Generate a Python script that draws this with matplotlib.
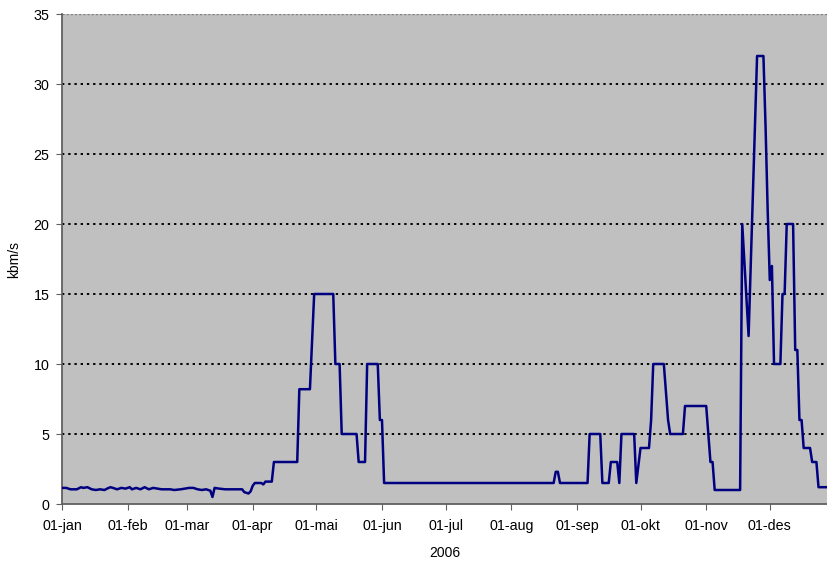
import matplotlib
matplotlib.use("Agg")
import matplotlib.pyplot as plt
import matplotlib.dates as mdates
import pandas as pd
import numpy as np

plt.rcParams['font.family'] = ['Liberation Sans', 'DejaVu Sans']

# day of year (0 = 01-jan-2006) and value in kbm/s
days = [0, 2, 4, 7, 9, 10, 12, 14, 16, 18, 20, 22, 23, 25, 26, 28, 30, 32, 33, 35,
        37, 39, 41, 43, 45, 47, 51, 53, 56, 60, 62, 64, 66, 68, 70, 71, 72, 74, 77, 85,
        86, 88, 89, 90, 91, 94, 95, 96, 99, 100, 111, 112, 117, 119, 128, 129, 131, 132, 139, 140,
        143, 144, 149, 150, 151, 152, 232, 233, 234, 235, 248, 249, 254, 255, 258, 259, 262, 263, 264, 270,
        271, 273, 277, 278, 279, 284, 286, 287, 293, 294, 304, 306, 307, 308, 320, 321, 324, 328, 331, 332,
        333, 334, 335, 336, 339, 340, 341, 342, 345, 346, 347, 348, 349, 350, 353, 354, 356, 357, 361]
values = [1.15, 1.15, 1.05, 1.05, 1.2, 1.15, 1.2, 1.05, 1.0, 1.05, 1.0, 1.15, 1.2, 1.1, 1.05, 1.15, 1.1, 1.2, 1.05, 1.15,
          1.05, 1.2, 1.05, 1.15, 1.1, 1.05, 1.05, 1.0, 1.05, 1.15, 1.15, 1.05, 1.0, 1.05, 0.95, 0.5, 1.15, 1.1, 1.05, 1.05,
          0.85, 0.75, 0.9, 1.3, 1.5, 1.5, 1.4, 1.6, 1.6, 3.0, 3.0, 8.2, 8.2, 15, 15, 10, 10, 5, 5, 3,
          3, 10, 10, 6, 6, 1.5, 1.5, 2.3, 2.3, 1.5, 1.5, 5, 5, 1.5, 1.5, 3, 3, 1.5, 5, 5,
          1.5, 4, 4, 6, 10, 10, 6, 5, 5, 7, 7, 3, 3, 1, 1, 20, 12, 32, 32, 27,
          21, 16, 17, 10, 10, 15, 15, 20, 20, 11, 11, 6, 6, 4, 4, 3, 3, 1.2, 1.2]

months = ['jan', 'feb', 'mar', 'apr', 'mai', 'jun', 'jul', 'aug', 'sep', 'okt', 'nov', 'des']

start = pd.Timestamp('2006-01-01')
dates = start + pd.to_timedelta(days, unit='D')
month_starts = pd.date_range('2006-01-01', periods=12, freq='MS')

fig = plt.figure(figsize=(8.27, 5.62), dpi=100)
ax = fig.add_axes([62/827, 1 - 504/562, 765/827, 490/562])
ax.set_facecolor('#C0C0C0')

# dotted grid
for yv in range(5, 35, 5):
    ax.axhline(yv, color='black', lw=1.4, ls=(0, (1.2, 2.0)), zorder=1)
ax.axhline(35, color='#808080', lw=1.0, ls=(0, (1.5, 1.5)), zorder=1)

ax.plot(dates, values, color='#000080', lw=1.8, zorder=3)

ax.set_ylim(0, 35)
ax.set_xlim(start, start + pd.Timedelta(days=361))
ax.set_yticks(range(0, 36, 5))
ax.set_xticks(month_starts)
ax.set_xticklabels(['01-' + m for m in months])

for s in ['top', 'right']:
    ax.spines[s].set_visible(False)
for s in ['left', 'bottom']:
    ax.spines[s].set_color('#606060')
    ax.spines[s].set_linewidth(1.3)
ax.tick_params(axis='both', direction='out', length=4, color='#606060', labelsize=10.3)
ax.tick_params(axis='x', pad=7)
ax.tick_params(axis='y', pad=5)

ax.set_ylabel('kbm/s', fontsize=10, labelpad=9)
ax.set_xlabel('2006', fontsize=10, labelpad=9)

fig.savefig('out.png', dpi=100)
